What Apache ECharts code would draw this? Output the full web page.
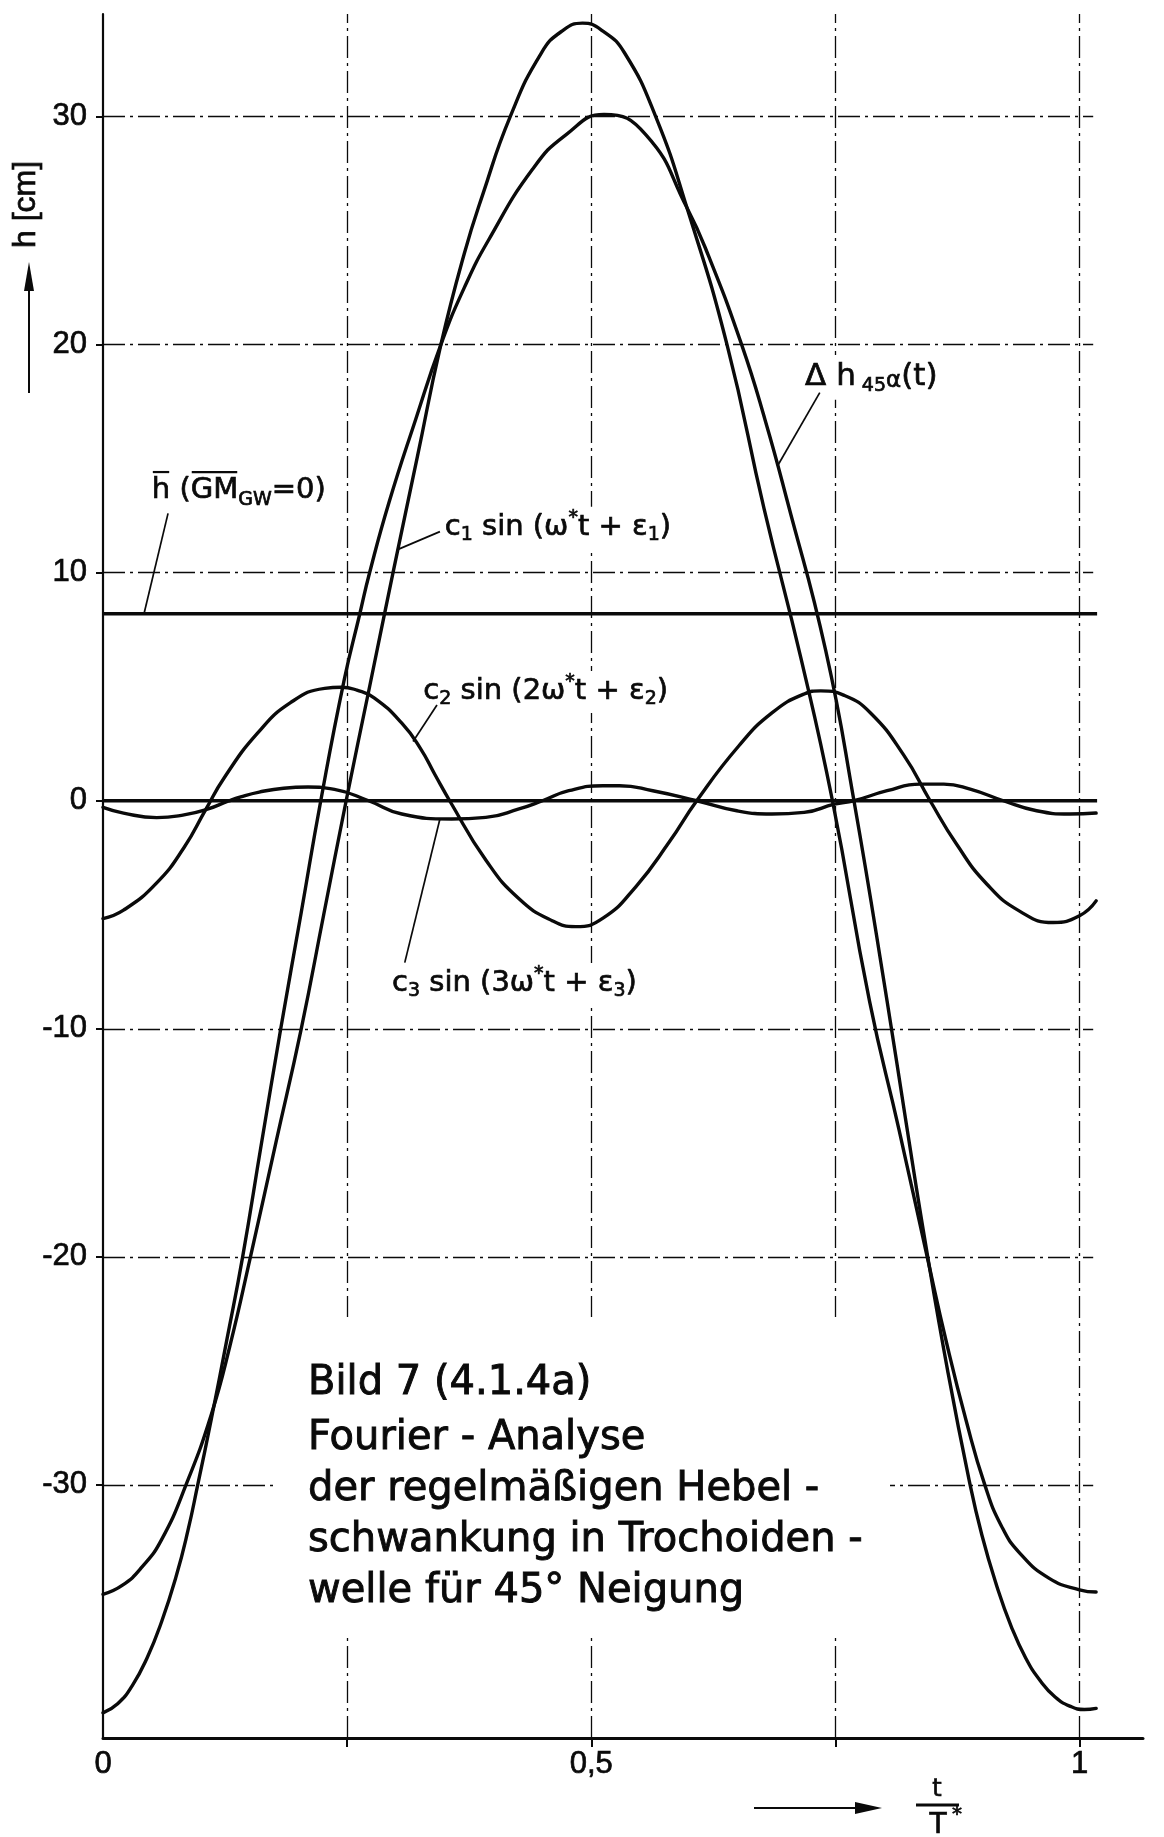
<!DOCTYPE html>
<html>
<head>
<meta charset="utf-8">
<script src="https://cdn.jsdelivr.net/npm/echarts@6/dist/echarts.min.js"></script>
<style>
  html, body { margin: 0; padding: 0; background: #fff; }
  #chart { width: 1164px; height: 1837px; }
</style>
</head>
<body>
<div id="chart"></div>
<script>
// Fourier analysis of the lever-arm oscillation, time in units of t/T*

// Δh_45°(t): total lever-arm fluctuation
const tDh = [0, 0.015, 0.03, 0.045, 0.06, 0.075, 0.087, 0.097, 0.111, 0.127, 0.143, 0.162, 0.182, 0.203, 0.223, 0.247, 0.263, 0.273, 0.293, 0.32, 0.346, 0.37, 0.395, 0.44, 0.474, 0.513, 0.556, 0.598, 0.62, 0.654, 0.678, 0.701, 0.74, 0.769, 0.803, 0.822, 0.843, 0.865, 0.887, 0.9, 0.915, 0.93, 0.945, 0.96, 0.975, 0.99, 1.005, 1.017];
const hDh = [-40.0, -39.6, -38.8, -37.6, -36.0, -34.0, -32.0, -30.0, -27.1, -23.6, -20.0, -15.1, -10.0, -4.9, 0, 5.3, 8.2, 10.0, 13.1, 16.7, 20.0, 22.5, 24.6, 27.7, 29.2, 30.1, 29.2, 26.0, 23.9, 20.0, 16.7, 13.1, 6.6, 0, -8.8, -14.0, -19.6, -25.0, -29.8, -32.2, -34.4, -36.2, -37.6, -38.6, -39.3, -39.7, -39.85, -39.8];

// c1 sin(ω*t + ε1): first harmonic
const tC1 = [0, 0.02, 0.04, 0.06, 0.085, 0.111, 0.13, 0.151, 0.177, 0.203, 0.226, 0.249, 0.273, 0.297, 0.322, 0.346, 0.37, 0.389, 0.417, 0.449, 0.47, 0.491, 0.512, 0.534, 0.566, 0.598, 0.639, 0.677, 0.715, 0.747, 0.785, 0.815, 0.844, 0.864, 0.884, 0.903, 0.92, 0.939, 0.969, 1.0, 1.017];
const hC1 = [-34.8, -34.4, -33.6, -32.4, -30.0, -26.9, -23.9, -20.0, -15.0, -10.0, -5.0, 0, 5.0, 10.0, 15.1, 20.0, 24.0, 26.6, 30.0, 32.8, 33.75, 34.1, 33.75, 32.8, 30.0, 26.0, 20.0, 12.8, 6.2, 0, -8.8, -14.4, -20.0, -23.8, -27.2, -30.0, -31.8, -33.0, -34.1, -34.6, -34.7];

// c2 sin(2ω*t + ε2): second harmonic
const tC2 = [0, 0.021, 0.055, 0.083, 0.105, 0.124, 0.158, 0.192, 0.227, 0.244, 0.26, 0.278, 0.306, 0.325, 0.34, 0.355, 0.392, 0.426, 0.46, 0.484, 0.512, 0.546, 0.58, 0.608, 0.651, 0.685, 0.718, 0.735, 0.759, 0.786, 0.82, 0.847, 0.874, 0.905, 0.939, 0.973, 1.0, 1.017];
const hC2 = [-5.17, -4.8, -3.6, -2.05, -0.4, 1.0, 2.95, 4.3, 4.93, 4.98, 4.85, 4.5, 3.4, 2.3, 1.14, 0, -2.6, -4.3, -5.26, -5.52, -5.15, -3.75, -1.8, 0, 2.4, 3.85, 4.68, 4.82, 4.62, 3.85, 2.0, 0, -1.9, -3.65, -4.85, -5.34, -5.04, -4.39];

// c3 sin(3ω*t + ε3): third harmonic
const tC3 = [0, 0.021, 0.055, 0.083, 0.107, 0.128, 0.141, 0.16, 0.185, 0.21, 0.237, 0.272, 0.306, 0.357, 0.392, 0.426, 0.45, 0.477, 0.512, 0.529, 0.563, 0.608, 0.649, 0.685, 0.718, 0.749, 0.769, 0.803, 0.837, 0.861, 0.888, 0.922, 0.956, 0.99, 1.017];
const hC3 = [-0.29, -0.54, -0.74, -0.62, -0.37, -0.02, 0.17, 0.38, 0.55, 0.6, 0.5, 0, -0.58, -0.8, -0.73, -0.36, 0, 0.44, 0.66, 0.66, 0.44, 0, -0.44, -0.58, -0.51, -0.15, 0, 0.44, 0.73, 0.73, 0.51, 0, -0.44, -0.58, -0.54];

// mean lever arm h̄ (GM_GW = 0) and the zero reference
const hMean = 8.2;
const tSpan = [0, 1.018];

// axis ticks and labels
const yTicks = [-30, -20, -10, 0, 10, 20, 30];
const yGrid = [-30, -20, -10, 10, 20, 30];
const xGrid = [0.25, 0.5, 0.75, 1];
const xLabels = [0, 0.5, 1];
const xLabelText = { '0': '0', '0.5': '0,5', '1': '1' };

const zip = (ts, hs) => ts.map((t, i) => [t, hs[i]]);

const chart = echarts.init(document.getElementById('chart'), null, { renderer: 'canvas' });

const INK = '#0a0a0a';
const gridDash = [22, 5, 3, 5];

const curve = (name, data) => ({
  name, type: 'line', data, smooth: 0.5, showSymbol: false, symbol: 'none',
  silent: true, z: 3,
  lineStyle: { color: INK, width: 3.4, cap: 'round', join: 'round' }
});

const tickFont = {
  color: INK, fontFamily: 'Liberation Sans', fontSize: 31,
  textBorderColor: INK, textBorderWidth: 0.7
};

chart.setOption({
  animation: false,
  backgroundColor: '#fff',
  grid: { left: 103, right: 21, top: 14, bottom: 99 },
  xAxis: {
    type: 'value', min: 0, max: 1.065,
    axisLine: { onZero: false, lineStyle: { color: INK, width: 3 } },
    splitLine: { show: false },
    axisTick: { customValues: xGrid, length: 9, lineStyle: { color: INK, width: 2 } },
    axisLabel: Object.assign({
      customValues: xLabels, margin: 11,
      formatter: v => xLabelText[String(v)] ?? String(v)
    }, tickFont)
  },
  yAxis: {
    type: 'value', min: -41.1, max: 34.5,
    axisLine: { onZero: false, lineStyle: { color: INK, width: 2.2 } },
    splitLine: { show: false },
    axisTick: { customValues: yTicks, length: 7, lineStyle: { color: INK, width: 2 } },
    axisLabel: Object.assign({
      customValues: yTicks, margin: 16,
      formatter: v => String(v)
    }, tickFont)
  },
  series: [
    {
      name: 'zero', type: 'line', data: tSpan.map(t => [t, 0]), showSymbol: false, symbol: 'none',
      silent: true, z: 2, lineStyle: { color: INK, width: 3.4 },
      markLine: {
        silent: true, symbol: ['none', 'none'], label: { show: false }, z: 1,
        lineStyle: { color: INK, width: 1.3, type: gridDash },
        data: [
          ...xGrid.map(v => ({ xAxis: v })),
          ...yGrid.map(v => [{ coord: [0, v] }, { coord: [1.014, v] }])
        ]
      }
    },
    {
      name: 'h mean', type: 'line', data: tSpan.map(t => [t, hMean]), showSymbol: false, symbol: 'none',
      silent: true, z: 2, lineStyle: { color: INK, width: 3.4 }
    },
    curve('c3', zip(tC3, hC3)),
    curve('c2', zip(tC2, hC2)),
    curve('c1', zip(tC1, hC1)),
    curve('dh', zip(tDh, hDh))
  ]
});

// ---- annotations -------------------------------------------------------
const FAMILY = 'DejaVu Sans';
const mctx = document.createElement('canvas').getContext('2d');
const px = (t, h) => chart.convertToPixel({ gridIndex: 0 }, [t, h]);
const fontOf = (size, fam) => size + 'px "' + (fam || FAMILY) + '"';

function txt(s, x, y, size, opts) {
  const o = opts || {};
  return {
    type: 'text', x, y, rotation: o.rotation || 0, silent: true, z: 31,
    style: {
      text: s, font: fontOf(size, o.family), fill: INK,
      stroke: INK, lineWidth: o.weight === undefined ? 0.7 : o.weight,
      align: o.align || 'left', verticalAlign: 'middle'
    }
  };
}

// a run of text pieces (with sub/superscripts and overbars), white backing
function textRun(parts, x0, yc, bgPad) {
  const els = [];
  let x = x0, maxSize = 0;
  parts.forEach(([s, size, dy = 0, over = false]) => {
    mctx.font = fontOf(size);
    const w = mctx.measureText(s).width;
    els.push(txt(s, x, yc + dy, size));
    if (over) {
      els.push({
        type: 'line', silent: true, z: 31,
        shape: { x1: x + 1, y1: yc - size * 0.64, x2: x + w - 1, y2: yc - size * 0.64 },
        style: { stroke: INK, lineWidth: 2.2 }
      });
    }
    maxSize = Math.max(maxSize, size);
    x += w;
  });
  if (bgPad !== undefined) {
    els.unshift({
      type: 'rect', silent: true, z: 30,
      shape: { x: x0 - bgPad, y: yc - maxSize * 0.7, width: x - x0 + 2 * bgPad, height: maxSize * 1.45 },
      style: { fill: '#fff' }
    });
  }
  return els;
}

function leader(a, b) {
  const p = px(a[0], a[1]), q = px(b[0], b[1]);
  return { type: 'line', silent: true, z: 32, shape: { x1: p[0], y1: p[1], x2: q[0], y2: q[1] }, style: { stroke: INK, lineWidth: 1.7 } };
}

const els = [];
let p;

// curve labels, anchored in data coordinates
p = px(0.05, 13.6);
els.push(...textRun([['h', 29, 0, true], [' (', 29], ['GM', 29, 0, true], ['GW', 19, 9], ['=0)', 29]], p[0], p[1], 3));
els.push(leader([0.0666, 12.6], [0.042, hMean]));

p = px(0.35, 12.0);
els.push(...textRun([['c', 29], ['1', 19, 8], [' sin (ω', 29], ['*', 19, -9], ['t + ε', 29], ['1', 19, 8], [')', 29]], p[0], p[1], 3));
els.push(leader([0.345, 11.8], [0.301, 11.0]));

p = px(0.328, 4.8);
els.push(...textRun([['c', 29], ['2', 19, 8], [' sin (2ω', 29], ['*', 19, -9], ['t + ε', 29], ['2', 19, 8], [')', 29]], p[0], p[1], 3));
els.push(leader([0.342, 4.2], [0.3175, 2.6]));

p = px(0.296, -8.0);
els.push(...textRun([['c', 29], ['3', 19, 8], [' sin (3ω', 29], ['*', 19, -9], ['t + ε', 29], ['3', 19, 8], [')', 29]], p[0], p[1], 3));
els.push(leader([0.309, -7.1], [0.345, -0.8]));

p = px(0.719, 18.6);
els.push(...textRun([['Δ h', 31], [' 45', 19, 9], ['α', 23, 4], ['(t)', 31]], p[0], p[1], 3));
els.push(leader([0.734, 17.9], [0.691, 14.7]));

// caption block on a white panel
els.push({ type: 'rect', silent: true, z: 30, shape: { x: 273, y: 1317, width: 617, height: 316 }, style: { fill: '#fff' } });
const caption = ['Bild 7 (4.1.4a)', 'Fourier - Analyse', 'der regelmäßigen Hebel -', 'schwankung in Trochoiden -', 'welle für 45° Neigung'];
const captionY = [1384, 1439, 1490, 1541, 1592];
caption.forEach((s, i) => els.push(txt(s, 308, captionY[i], 40, { weight: 0.9 })));

// y axis name (reads upward, starting just above the arrow) with arrow
els.push(txt('h [cm]', 26, 248, 32, { rotation: Math.PI / 2, align: 'left', family: 'Liberation Sans' }));
els.push({ type: 'line', silent: true, z: 31, shape: { x1: 29, y1: 393, x2: 29, y2: 285 }, style: { stroke: INK, lineWidth: 2 } });
els.push({ type: 'polygon', silent: true, z: 31, shape: { points: [[29, 262], [24, 291], [34, 291]] }, style: { fill: INK } });

// x axis name t/T* with arrow
els.push({ type: 'line', silent: true, z: 31, shape: { x1: 754, y1: 1808, x2: 860, y2: 1808 }, style: { stroke: INK, lineWidth: 2 } });
els.push({ type: 'polygon', silent: true, z: 31, shape: { points: [[882, 1808], [855, 1802], [855, 1814]] }, style: { fill: INK } });
els.push(txt('t', 937, 1790, 24, { align: 'center' }));
els.push({ type: 'line', silent: true, z: 31, shape: { x1: 916, y1: 1805, x2: 959, y2: 1805 }, style: { stroke: INK, lineWidth: 3 } });
els.push(txt('T', 938, 1826, 28, { align: 'center' }));
els.push(txt('*', 957, 1815, 20, { align: 'center' }));

chart.setOption({ graphic: { elements: els } });
</script>
</body>
</html>
